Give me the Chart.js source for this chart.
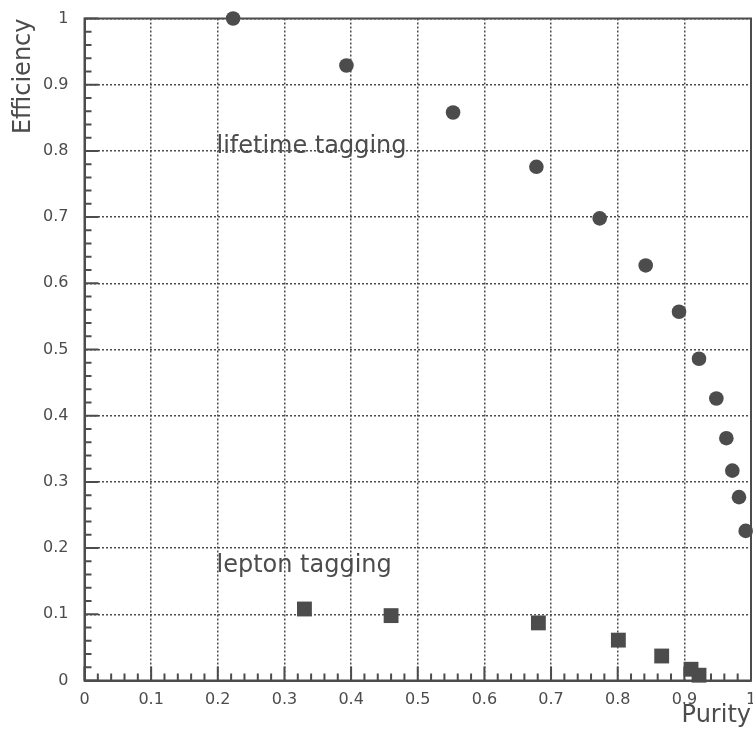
<!DOCTYPE html>
<html>
<head>
<meta charset="utf-8">
<script src="https://cdn.jsdelivr.net/npm/chart.js@4/dist/chart.umd.min.js"></script>
<style>
    html, body { margin: 0; padding: 0; background: #fff; }
    #wrap { width: 753px; height: 731px; }
</style>
</head>
<body>
<div id="wrap"><canvas id="tag-chart" width="753" height="731"></canvas></div>
<script>
// Efficiência x pureza para os dois métodos de tagging
const lifetimePurity = [0.223, 0.393, 0.553, 0.678, 0.773, 0.842, 0.892, 0.922, 0.948, 0.963, 0.972, 0.982, 0.992];
const lifetimeEfficiency = [1.0, 0.929, 0.858, 0.776, 0.698, 0.627, 0.557, 0.486, 0.426, 0.366, 0.317, 0.277, 0.226];
const leptonPurity = [0.330, 0.460, 0.681, 0.801, 0.866, 0.910, 0.922];
const leptonEfficiency = [0.108, 0.098, 0.087, 0.061, 0.037, 0.017, 0.008];
const tickLabels = ['0', '0.1', '0.2', '0.3', '0.4', '0.5', '0.6', '0.7', '0.8', '0.9', '1'];
const seriesNames = ['lifetime tagging', 'lepton tagging'];

const ink = '#4c4c4c';
const fontFamily = '"DejaVu Sans", sans-serif';

function toPoints(xs, ys) {
    return xs.map((x, i) => ({ x: x, y: ys[i] }));
}

// Moldura, marcas menores e rótulos dentro do gráfico
const framePlugin = {
    id: 'frame',
    beforeDatasetsDraw(chart) {
        const { ctx, chartArea: a, scales } = chart;
        ctx.save();
        ctx.strokeStyle = ink;
        ctx.lineWidth = 2;
        ctx.strokeRect(a.left, a.top, a.right - a.left, a.bottom - a.top);

        // marcas a cada 0.02, maiores nos décimos
        for (let k = 0; k <= 50; k++) {
            const v = k / 50;
            const len = k % 5 === 0 ? 14 : 7;
            const py = scales.y.getPixelForValue(v);
            const px = scales.x.getPixelForValue(v);
            ctx.beginPath();
            ctx.moveTo(a.left, py);
            ctx.lineTo(a.left + len, py);
            ctx.moveTo(px, a.bottom);
            ctx.lineTo(px, a.bottom - len);
            ctx.stroke();
        }

        ctx.fillStyle = ink;
        ctx.font = '24px ' + fontFamily;
        ctx.textBaseline = 'alphabetic';
        ctx.textAlign = 'left';
        ctx.fillText(seriesNames[0], scales.x.getPixelForValue(0.198), scales.y.getPixelForValue(0.797));
        ctx.fillText(seriesNames[1], scales.x.getPixelForValue(0.198), scales.y.getPixelForValue(0.164));
        ctx.restore();
    }
};

function fixWidth(w) {
    return function(scale) {
        scale.width = w;
        scale.paddingTop = 0;
        scale.paddingBottom = 0;
    };
}

function fixHeight(h) {
    return function(scale) {
        scale.height = h;
        scale.paddingLeft = 0;
        scale.paddingRight = 0;
    };
}

const chart = new Chart(document.getElementById('tag-chart').getContext('2d'), {
    type: 'scatter',
    data: {
        datasets: [{
            label: seriesNames[0],
            data: toPoints(lifetimePurity, lifetimeEfficiency),
            pointStyle: 'circle',
            pointRadius: 7.3,
            pointBorderWidth: 0,
            backgroundColor: ink,
            borderColor: ink,
            clip: false
        }, {
            label: seriesNames[1],
            data: toPoints(leptonPurity, leptonEfficiency),
            pointStyle: 'rect',
            pointRadius: 10.5,
            pointBorderWidth: 0,
            backgroundColor: ink,
            borderColor: ink,
            clip: false
        }]
    },
    options: {
        responsive: false,
        animation: false,
        layout: {
            autoPadding: false,
            padding: { left: 0, right: 2, top: 18.5, bottom: 0 }
        },
        plugins: {
            legend: { display: false },
            tooltip: { enabled: false }
        },
        scales: {
            x: {
                type: 'linear',
                min: 0,
                max: 1,
                afterFit: fixHeight(50.5),
                grid: { color: ink, lineWidth: 1.5, drawTicks: false },
                border: { display: true, color: ink, width: 2, dash: [2, 2] },
                ticks: {
                    stepSize: 0.1,
                    padding: 10,
                    color: ink,
                    font: { family: fontFamily, size: 16 },
                    maxRotation: 0,
                    callback: (v, i) => tickLabels[i]
                },
                title: {
                    display: true,
                    text: 'Purity',
                    align: 'end',
                    color: ink,
                    font: { family: fontFamily, size: 24 },
                    padding: { top: 0, bottom: 1 }
                }
            },
            y: {
                type: 'linear',
                min: 0,
                max: 1,
                afterFit: fixWidth(84.5),
                grid: { color: ink, lineWidth: 1.5, drawTicks: false },
                border: { display: true, color: ink, width: 2, dash: [2, 2] },
                ticks: {
                    stepSize: 0.1,
                    padding: 16,
                    color: ink,
                    font: { family: fontFamily, size: 16 },
                    callback: (v, i) => tickLabels[i]
                },
                title: {
                    display: true,
                    text: 'Efficiency',
                    align: 'end',
                    color: ink,
                    font: { family: fontFamily, size: 24 },
                    padding: { top: 9, bottom: 0 }
                }
            }
        }
    },
    plugins: [framePlugin]
});
</script>
</body>
</html>
